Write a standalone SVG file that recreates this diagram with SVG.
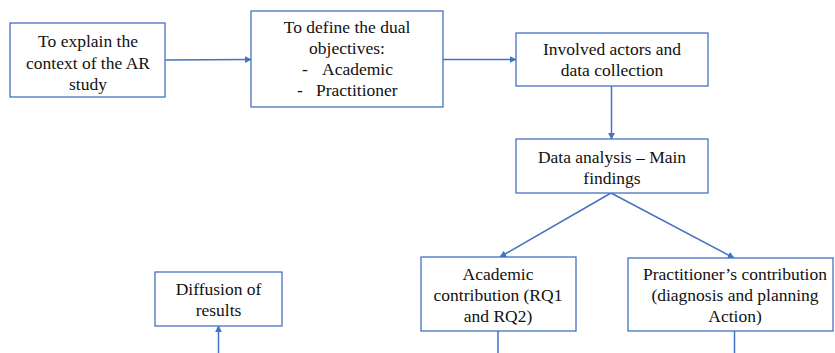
<svg xmlns="http://www.w3.org/2000/svg" width="835" height="353" viewBox="0 0 835 353">
<style>
.box{fill:#fff;stroke:#4472C4;stroke-width:1.3}
text{font-family:'Liberation Serif','Times New Roman',serif;font-size:17.5px;fill:#111;text-anchor:middle}
.s{text-anchor:start}
.c{fill:none;stroke:#4472C4;stroke-width:1.5}
</style>
<defs>
<marker id="ah" viewBox="0 0 10 10" refX="9" refY="5" markerWidth="7" markerHeight="7" markerUnits="userSpaceOnUse" orient="auto">
<path d="M0,0 L10,5 L0,10 z" fill="#4472C4"/>
</marker>
</defs>
<rect width="835" height="353" fill="#fff"/>
<g id="connectors">
<line class="c" x1="165" y1="60" x2="251" y2="59.5" marker-end="url(#ah)"/>
<line class="c" x1="443" y1="59.5" x2="516" y2="59.5" marker-end="url(#ah)"/>
<line class="c" x1="611.5" y1="86" x2="611.5" y2="139" marker-end="url(#ah)"/>
<line class="c" x1="611" y1="193" x2="500" y2="257" marker-end="url(#ah)"/>
<line class="c" x1="611" y1="193" x2="734" y2="258" marker-end="url(#ah)"/>
<line class="c" x1="498" y1="331" x2="498" y2="353"/>
<line class="c" x1="734.5" y1="331" x2="734.5" y2="353"/>
<line class="c" x1="218.5" y1="353" x2="218.5" y2="326" marker-end="url(#ah)"/>
</g>
<g id="n1">
<rect class="box" x="10" y="23" width="155" height="74"/>
<text x="88" y="47">To explain the</text>
<text x="88" y="68.5">context of the AR</text>
<text x="88" y="90">study</text>
</g>
<g id="n2">
<rect class="box" x="251" y="11" width="192" height="96"/>
<text x="347" y="33">To define the dual</text>
<text x="347" y="54">objectives:</text>
<text class="s" x="302" y="75">-</text>
<text class="s" x="322" y="75">Academic</text>
<text class="s" x="297" y="96">-</text>
<text class="s" x="316" y="96">Practitioner</text>
</g>
<g id="n3">
<rect class="box" x="516" y="33" width="192" height="53"/>
<text x="612" y="55">Involved actors and</text>
<text x="612" y="76">data collection</text>
</g>
<g id="n4">
<rect class="box" x="516" y="139" width="192" height="54"/>
<text x="612" y="163">Data analysis – Main</text>
<text x="612" y="184">findings</text>
</g>
<g id="n5">
<rect class="box" x="155" y="272" width="127" height="54"/>
<text x="218.5" y="295">Diffusion of</text>
<text x="218.5" y="316">results</text>
</g>
<g id="n6">
<rect class="box" x="421" y="257" width="155" height="74"/>
<text x="498" y="280">Academic</text>
<text x="498" y="301">contribution (RQ1</text>
<text x="498" y="322">and RQ2)</text>
</g>
<g id="n7">
<rect class="box" x="628" y="258" width="205" height="73"/>
<text x="735" y="280">Practitioner’s contribution</text>
<text x="735" y="301">(diagnosis and planning</text>
<text x="735" y="322">Action)</text>
</g>
</svg>
